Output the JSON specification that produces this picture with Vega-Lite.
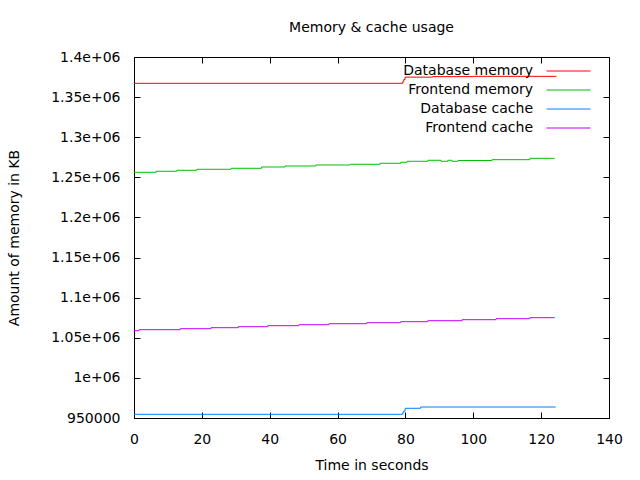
{
  "$schema": "https://vega.github.io/schema/vega-lite/v6.json",
  "autosize": {"type": "none"},
  "padding": {"left": 134, "top": 57, "right": 31, "bottom": 62},
  "width": 475,
  "height": 361,
  "background": "white",
  "title": {"text": "Memory & cache usage", "font": "DejaVu Sans", "fontSize": 14, "fontWeight": "normal", "color": "black", "frame": "group", "anchor": "middle", "offset": 15},
  "config": {
    "view": {"stroke": "black", "strokeWidth": 1},
    "axis": {"grid": false, "domain": false, "tickColor": "black", "tickSize": -6, "labelPadding": 20, "labelFlush": false, "labelFont": "DejaVu Sans", "labelFontSize": 14, "labelColor": "black", "titleFont": "DejaVu Sans", "titleFontSize": 14, "titleFontWeight": "normal", "titleColor": "black"},
    "legend": {"orient": "none", "legendX": 427.5, "legendY": 7, "title": null, "symbolType": "M-4,0H4", "symbolSize": 121, "symbolStrokeWidth": 1, "labelAlign": "right", "labelOffset": -42.5, "labelFont": "DejaVu Sans", "labelFontSize": 14, "labelColor": "black", "rowPadding": 5}
  },
  "data": {"values": [
    {"t": 0, "s": "Database memory", "v": 1367200},
    {"t": 79.2, "s": "Database memory", "v": 1369200},
    {"t": 79.5, "s": "Database memory", "v": 1371800},
    {"t": 79.9, "s": "Database memory", "v": 1374900},
    {"t": 88, "s": "Database memory", "v": 1375500},
    {"t": 100, "s": "Database memory", "v": 1375900},
    {"t": 124.5, "s": "Database memory", "v": 1375900},

    {"t": 0, "s": "Frontend memory", "v": 1256280},
    {"t": 6.5, "s": "Frontend memory", "v": 1257530},
    {"t": 12.6, "s": "Frontend memory", "v": 1258770},
    {"t": 18.5, "s": "Frontend memory", "v": 1260020},
    {"t": 28.6, "s": "Frontend memory", "v": 1261270},
    {"t": 37.6, "s": "Frontend memory", "v": 1262890},
    {"t": 44.5, "s": "Frontend memory", "v": 1264140},
    {"t": 53.6, "s": "Frontend memory", "v": 1265380},
    {"t": 63.7, "s": "Frontend memory", "v": 1266260},
    {"t": 72.5, "s": "Frontend memory", "v": 1267500},
    {"t": 78.6, "s": "Frontend memory", "v": 1268750},
    {"t": 80.5, "s": "Frontend memory", "v": 1270000},
    {"t": 86.6, "s": "Frontend memory", "v": 1271240},
    {"t": 90.5, "s": "Frontend memory", "v": 1270000},
    {"t": 92.5, "s": "Frontend memory", "v": 1271240},
    {"t": 93.7, "s": "Frontend memory", "v": 1270000},
    {"t": 95.5, "s": "Frontend memory", "v": 1271000},
    {"t": 105.5, "s": "Frontend memory", "v": 1272000},
    {"t": 116.7, "s": "Frontend memory", "v": 1273700},
    {"t": 124, "s": "Frontend memory", "v": 1273700},

    {"t": 0, "s": "Database cache", "v": 954600},
    {"t": 79.2, "s": "Database cache", "v": 956600},
    {"t": 79.5, "s": "Database cache", "v": 958600},
    {"t": 79.9, "s": "Database cache", "v": 962100},
    {"t": 84.5, "s": "Database cache", "v": 963700},
    {"t": 124.3, "s": "Database cache", "v": 963700},

    {"t": 0, "s": "Frontend cache", "v": 1058830},
    {"t": 1.5, "s": "Frontend cache", "v": 1060070},
    {"t": 13.6, "s": "Frontend cache", "v": 1061320},
    {"t": 22.7, "s": "Frontend cache", "v": 1062570},
    {"t": 30.7, "s": "Frontend cache", "v": 1063810},
    {"t": 39.4, "s": "Frontend cache", "v": 1065060},
    {"t": 48.6, "s": "Frontend cache", "v": 1066310},
    {"t": 57.5, "s": "Frontend cache", "v": 1067550},
    {"t": 68.6, "s": "Frontend cache", "v": 1068800},
    {"t": 78.6, "s": "Frontend cache", "v": 1070050},
    {"t": 86.6, "s": "Frontend cache", "v": 1071290},
    {"t": 96.7, "s": "Frontend cache", "v": 1072540},
    {"t": 106.7, "s": "Frontend cache", "v": 1073780},
    {"t": 116.7, "s": "Frontend cache", "v": 1075030},
    {"t": 124, "s": "Frontend cache", "v": 1075030}
  ]},
  "layer": [
    {
      "mark": {"type": "line", "interpolate": "step-after", "strokeWidth": 1},
      "encoding": {
        "x": {"field": "t", "type": "quantitative", "scale": {"domain": [0, 140], "nice": false}, "axis": {"title": "Time in seconds", "values": [0, 20, 40, 60, 80, 100, 120, 140], "titlePadding": 12}},
        "y": {"field": "v", "type": "quantitative", "scale": {"domain": [950000, 1400000], "nice": false, "zero": false}, "axis": {"title": "Amount of memory in KB", "values": [950000, 1000000, 1050000, 1100000, 1150000, 1200000, 1250000, 1300000, 1350000, 1400000], "labelExpr": "datum.value >= 1000000 ? format(datum.value / 1000000, '.2~f') + 'e+06' : format(datum.value, 'd')", "titlePadding": 29}},
        "color": {"field": "s", "type": "nominal", "scale": {"domain": ["Database memory", "Frontend memory", "Database cache", "Frontend cache"], "range": ["#ff0000", "#00c000", "#0080ff", "#c000ff"]}},
        "detail": {"field": "s"}
      }
    },
    {
      "mark": {"type": "line", "opacity": 0},
      "encoding": {
        "x": {"field": "t", "type": "quantitative", "axis": {"orient": "top", "title": null, "labels": false, "values": [0, 20, 40, 60, 80, 100, 120, 140]}},
        "y": {"field": "v", "type": "quantitative", "axis": {"orient": "right", "title": null, "labels": false, "values": [950000, 1000000, 1050000, 1100000, 1150000, 1200000, 1250000, 1300000, 1350000, 1400000]}},
        "detail": {"field": "s"}
      }
    }
  ],
  "resolve": {"axis": {"x": "independent", "y": "independent"}}
}
